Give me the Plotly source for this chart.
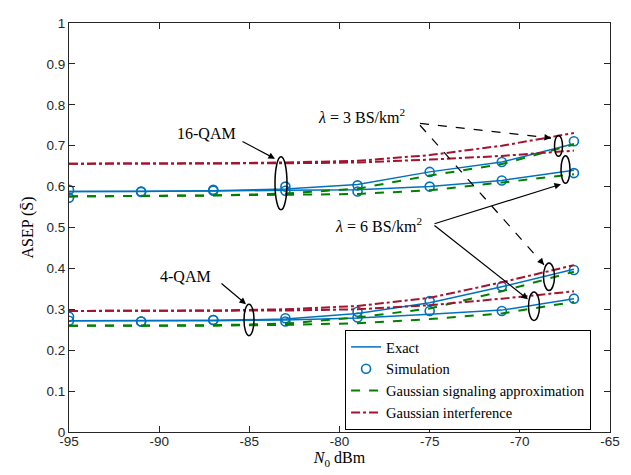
import plotly.graph_objects as go

# ---------------- data ----------------
n0 = [-95, -91, -87, -83, -79, -75, -71, -67]

# 16-QAM
exact_16_l3 = [0.588, 0.588, 0.590, 0.594, 0.605, 0.636, 0.660, 0.705]
exact_16_l6 = [0.588, 0.588, 0.589, 0.591, 0.592, 0.600, 0.615, 0.640]
sim_16_l3 = [0.592, 0.588, 0.592, 0.600, 0.603, 0.636, 0.660, 0.711]
sim_16_l6 = [0.573, 0.587, 0.590, 0.590, 0.588, 0.600, 0.615, 0.633]
gsa_16_l3 = [0.576, 0.577, 0.578, 0.583, 0.595, 0.627, 0.655, 0.703]
gsa_16_l6 = [0.576, 0.577, 0.578, 0.580, 0.582, 0.591, 0.610, 0.630]
gi_16_l3 = [0.656, 0.656, 0.657, 0.659, 0.663, 0.677, 0.700, 0.731]
gi_16_l6 = [0.656, 0.656, 0.656, 0.657, 0.659, 0.666, 0.675, 0.688]

# 4-QAM
exact_4_l3 = [0.272, 0.272, 0.273, 0.276, 0.290, 0.316, 0.355, 0.398]
exact_4_l6 = [0.272, 0.272, 0.272, 0.274, 0.279, 0.288, 0.298, 0.326]
sim_4_l3 = [0.282, 0.270, 0.274, 0.278, 0.294, 0.320, 0.356, 0.396]
sim_4_l6 = [0.272, 0.270, 0.274, 0.270, 0.280, 0.296, 0.296, 0.326]
gsa_4_l3 = [0.260, 0.260, 0.261, 0.265, 0.280, 0.302, 0.344, 0.392]
gsa_4_l6 = [0.260, 0.260, 0.260, 0.262, 0.266, 0.276, 0.290, 0.318]
gi_4_l3 = [0.296, 0.296, 0.297, 0.300, 0.308, 0.328, 0.366, 0.408]
gi_4_l6 = [0.296, 0.296, 0.296, 0.297, 0.300, 0.310, 0.326, 0.344]

x_ticks = [-95, -90, -85, -80, -75, -70, -65]
y_ticks = [0, 0.1, 0.2, 0.3, 0.4, 0.5, 0.6, 0.7, 0.8, 0.9, 1]

legend_names = ["Exact", "Simulation", "Gaussian signaling approximation", "Gaussian interference"]

BLUE = "#0072BD"
GREEN = "#008000"
RED = "#A2142F"
SERIF = "Liberation Serif, Times New Roman, serif"
SANS = "Liberation Sans, Arial, sans-serif"

fig = go.Figure()

def add_line(y, name, color, dash, width, show):
    fig.add_trace(go.Scatter(x=n0, y=y, mode="lines", name=name,
                             showlegend=show, line=dict(color=color, dash=dash, width=width)))

for i, y in enumerate([exact_16_l3, exact_16_l6, exact_4_l3, exact_4_l6]):
    add_line(y, legend_names[0], BLUE, "solid", 1.5, i == 0)
for i, y in enumerate([sim_16_l3, sim_16_l6, sim_4_l3, sim_4_l6]):
    fig.add_trace(go.Scatter(x=n0, y=y, mode="markers", name=legend_names[1],
                             showlegend=(i == 0),
                             marker=dict(symbol="circle-open", size=9, color=BLUE, line=dict(width=1.6, color=BLUE))))
for i, y in enumerate([gsa_16_l3, gsa_16_l6, gsa_4_l3, gsa_4_l6]):
    add_line(y, legend_names[2], GREEN, "dash", 2, i == 0)
for i, y in enumerate([gi_16_l3, gi_16_l6, gi_4_l3, gi_4_l6]):
    add_line(y, legend_names[3], RED, "dashdot", 2, i == 0)

# --------- annotation helpers (pixel -> data for decorations) ---------
L, R, T, B = 61, 602, 8, 424
def px(p):
    return -95 + (p - L) / (R - L) * 30
def py(p):
    return (B - p) / (B - T)

def ellipse(cx, cy, rx, ry):
    fig.add_shape(type="circle", xref="x", yref="y",
                  x0=px(cx - rx), x1=px(cx + rx), y0=py(cy + ry), y1=py(cy - ry),
                  line=dict(color="black", width=1.5))

ellipse(273, 171, 6, 27)
ellipse(241, 310, 5, 16)
ellipse(550.5, 133, 4, 10.5)
ellipse(557.5, 157, 4.5, 14)
ellipse(541, 266, 5.5, 14)
ellipse(526, 296, 5.5, 14.5)

def arrow(x0, y0, x1, y1):
    fig.add_annotation(x=px(x1), y=py(y1), xref="x", yref="y", ax=x0 - x1, ay=y0 - y1,
                       axref="pixel", ayref="pixel", text="", showarrow=True,
                       arrowhead=2, arrowsize=1.1, arrowwidth=1.2, arrowcolor="black", standoff=0)

def dashed_arrow(x0, y0, x1, y1):
    fig.add_shape(type="line", xref="x", yref="y", x0=px(x0), y0=py(y0), x1=px(x1), y1=py(y1),
                  line=dict(color="black", width=1.2, dash="dash"))
    dx, dy = x0 - x1, y0 - y1
    n = (dx * dx + dy * dy) ** 0.5
    fig.add_annotation(x=px(x1), y=py(y1), xref="x", yref="y", ax=dx / n * 6, ay=dy / n * 6,
                       axref="pixel", ayref="pixel", text="", showarrow=True,
                       arrowhead=2, arrowsize=1.1, arrowwidth=1.2, arrowcolor="black", standoff=0)

arrow(233, 128, 267, 146)
arrow(212, 272, 238, 294)
dashed_arrow(412, 110, 543, 125)
dashed_arrow(412, 112, 536, 254)
arrow(425, 212, 553, 172)
arrow(425, 214, 520, 289)

def label(x, y, text):
    fig.add_annotation(x=px(x), y=py(y), xref="x", yref="y", text=text, showarrow=False,
                       font=dict(family=SERIF, size=16, color="black"))

label(198, 120, "16-QAM")
label(177, 266, "4-QAM")
label(353, 103, "<i>λ</i> = 3 BS/km<sup>2</sup>")
label(370, 213, "<i>λ</i> = 6 BS/km<sup>2</sup>")

axis_common = dict(showline=True, linecolor="#262626", linewidth=1, mirror="ticks",
                   ticks="inside", ticklen=6, tickcolor="#262626", showgrid=False, zeroline=False,
                   tickfont=dict(family=SANS, size=13.5, color="#262626"))

fig.update_xaxes(range=[-95, -65], tickvals=x_ticks, ticktext=[str(v) for v in x_ticks],
                 ticklabelstandoff=-3,
                 title=dict(text="<i>N</i><sub>0</sub> dBm", font=dict(family=SERIF, size=16, color="black"),
                            standoff=0), **axis_common)
fig.update_yaxes(range=[0, 1], tickvals=y_ticks, ticktext=[("%g" % v) for v in y_ticks],
                 title=dict(text="ASEP (S\u0304)", font=dict(family=SERIF, size=16, color="black"),
                            standoff=8), **axis_common)

fig.update_layout(
    width=631, height=475,
    margin=dict(l=L, r=631 - R, t=T, b=475 - B),
    plot_bgcolor="white", paper_bgcolor="white",
    legend=dict(x=0.965, y=0.005, xanchor="right", yanchor="bottom",
                bgcolor="white", bordercolor="black", borderwidth=1, itemwidth=30,
                font=dict(family=SERIF, size=14.5, color="black"), tracegroupgap=0),
    showlegend=True,
)

fig.write_html("out.html")
